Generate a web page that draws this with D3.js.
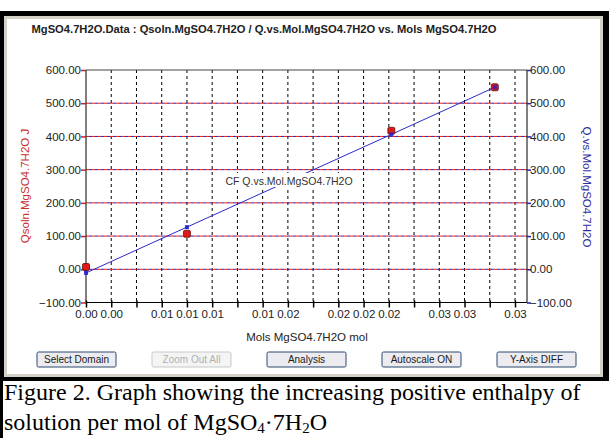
<!DOCTYPE html>
<html lang="en">
<head>
    <meta charset="UTF-8">
    <title>MgSO4.7H2O Qsoln vs Mols</title>
    <script src="https://d3js.org/d3.v7.min.js"></script>
    <style>
        body {
            margin: 0;
            background: #fff;
            font-family: Arial, "Liberation Sans", sans-serif;
        }
        .tick-label { font-size: 11.5px; fill: #222; }
        .btn-text { font-size: 10px; }
        .caption { font-family: "Liberation Serif", "Times New Roman", serif; font-size: 24px; fill: #000; }
    </style>
</head>
<body>
    <svg id="chart" width="609" height="438"></svg>

    <script>
        // data
        const mols = [0, 0.008, 0.0242, 0.0324];
        const qsoln = [7, 107, 417, 548];
        const qFit = [-11, 127, 406, 548];

        const xTickValues = d3.range(0, 0.0341, 0.002);
        const xTickLabels = ["0.00", "0.00", "", "0.01", "0.01", "0.01", "", "0.01", "0.02", "",
                             "0.02", "0.02", "0.02", "", "0.03", "0.03", "", "0.03"];
        const yTickValues = [-100, 0, 100, 200, 300, 400, 500, 600];
        const buttonLabels = ["Select Domain", "Zoom Out All", "Analysis", "Autoscale ON", "Y-Axis DIFF"];

        const svg = d3.select("#chart");

        // plot area
        const pLeft = 86, pRight = 527, pTop = 70, pBottom = 302.5;

        const x = d3.scaleLinear().domain([0, 0.034]).range([pLeft, 515]);
        const y = d3.scaleLinear().domain([-100, 600]).range([pBottom, pTop]);

        // window frame
        svg.append("rect").attr("x", 0).attr("y", 11).attr("width", 609).attr("height", 370).attr("fill", "#000");
        svg.append("rect").attr("x", 4).attr("y", 16).attr("width", 599).attr("height", 361).attr("fill", "#d4d0c8");
        svg.append("rect").attr("x", 7).attr("y", 19).attr("width", 593).attr("height", 355).attr("fill", "#fff");
        // left edge continues down past the caption
        svg.append("rect").attr("x", 0).attr("y", 381).attr("width", 3).attr("height", 57).attr("fill", "#000");

        // title
        svg.append("text")
            .attr("x", 264)
            .attr("y", 33)
            .attr("text-anchor", "middle")
            .style("font-size", "11.2px")
            .style("font-weight", "bold")
            .attr("fill", "#222")
            .text("MgSO4.7H2O.Data : Qsoln.MgSO4.7H2O / Q.vs.Mol.MgSO4.7H2O vs. Mols MgSO4.7H2O");

        // vertical dashed grid
        svg.append("g")
            .selectAll("line")
            .data(xTickValues.slice(1))
            .enter()
            .append("line")
            .attr("x1", d => x(d)).attr("x2", d => x(d))
            .attr("y1", pTop).attr("y2", pBottom)
            .attr("stroke", "#000")
            .attr("stroke-dasharray", "3,3");

        // horizontal grid: red and blue dashes interleaved
        const hGrid = yTickValues.filter(v => v > -100 && v < 600);
        svg.append("g")
            .selectAll("line")
            .data(hGrid)
            .enter()
            .append("line")
            .attr("x1", pLeft).attr("x2", pRight)
            .attr("y1", d => y(d)).attr("y2", d => y(d))
            .attr("stroke", "#e02020")
            .attr("stroke-dasharray", "3,3");
        svg.append("g")
            .selectAll("line")
            .data(hGrid)
            .enter()
            .append("line")
            .attr("x1", pLeft).attr("x2", pRight)
            .attr("y1", d => y(d)).attr("y2", d => y(d))
            .attr("stroke", "#2020c0")
            .attr("stroke-dasharray", "3,3")
            .attr("stroke-dashoffset", 3);

        // frame of plot
        svg.append("line").attr("x1", pLeft).attr("x2", pRight).attr("y1", pTop).attr("y2", pTop).attr("stroke", "#444");
        svg.append("line").attr("x1", pLeft).attr("x2", pRight).attr("y1", pBottom).attr("y2", pBottom).attr("stroke", "#000");

        // left axis (red ticks)
        const yLeft = svg.append("g")
            .attr("transform", `translate(${pLeft},0)`)
            .call(d3.axisLeft(y).tickValues(yTickValues).tickSize(5).tickFormat(d3.format(".2f")));
        yLeft.select(".domain").attr("stroke", "#000").attr("d", `M0,${pTop}V${pBottom}`);
        yLeft.selectAll(".tick line").attr("stroke", "#d02020").attr("stroke-width", 1.5);
        yLeft.selectAll(".tick text").attr("class", "tick-label").attr("x", -5);
        yLeft.attr("font-family", null).attr("font-size", null);

        // right axis (blue ticks)
        const yRight = svg.append("g")
            .attr("transform", `translate(${pRight},0)`)
            .call(d3.axisRight(y).tickValues(yTickValues).tickSize(4).tickFormat(d3.format(".2f")));
        yRight.select(".domain").attr("stroke", "#000").attr("d", `M0,${pTop}V${pBottom}`);
        yRight.selectAll(".tick line").attr("stroke", "#2020c0").attr("stroke-width", 1.5);
        yRight.selectAll(".tick text").attr("class", "tick-label").attr("x", 3);
        yRight.attr("font-family", null).attr("font-size", null);

        // bottom axis
        const xAxis = svg.append("g")
            .attr("transform", `translate(0,${pBottom})`)
            .call(d3.axisBottom(x).tickValues(xTickValues).tickSize(5).tickFormat((d, i) => xTickLabels[i]));
        xAxis.select(".domain").remove();
        xAxis.selectAll(".tick line").attr("stroke", "#000").attr("stroke-width", 1.5).attr("y1", -2);
        xAxis.selectAll(".tick text").attr("class", "tick-label").attr("y", 7);
        xAxis.attr("font-family", null).attr("font-size", null);

        // axis titles
        svg.append("text")
            .attr("transform", "translate(29,186) rotate(-90)")
            .attr("text-anchor", "middle")
            .style("font-size", "11.5px")
            .attr("fill", "#c83030")
            .text("Qsoln.MgSO4.7H2O J");
        svg.append("text")
            .attr("transform", "translate(583,187) rotate(90)")
            .attr("text-anchor", "middle")
            .style("font-size", "11.5px")
            .attr("fill", "#3030a0")
            .text("Q.vs.Mol.MgSO4.7H2O");
        svg.append("text")
            .attr("x", 307)
            .attr("y", 341)
            .attr("text-anchor", "middle")
            .style("font-size", "11.5px")
            .attr("fill", "#222")
            .text("Mols MgSO4.7H2O mol");

        // fitted line
        const fitData = mols.map((m, i) => [m, qFit[i]]);
        svg.append("path")
            .datum(fitData)
            .attr("d", d3.line().x(d => x(d[0])).y(d => y(d[1])))
            .attr("fill", "none")
            .attr("stroke", "#2a2ac8")
            .attr("stroke-width", 1);

        // curve label with white box over the line
        const lbl = svg.append("g").attr("transform", "translate(289,181)");
        lbl.append("rect").attr("x", -57).attr("y", -8).attr("width", 114).attr("height", 14).attr("fill", "#fff");
        lbl.append("text")
            .attr("text-anchor", "middle")
            .attr("y", 4)
            .style("font-size", "10.5px")
            .attr("fill", "#333")
            .text("CF Q.vs.Mol.MgSO4.7H2O");

        // measured points
        svg.append("g")
            .selectAll("rect")
            .data(mols.map((m, i) => [m, qsoln[i]]))
            .enter()
            .append("rect")
            .attr("x", d => x(d[0]) - 3.5)
            .attr("y", d => y(d[1]) - 3.5)
            .attr("width", 7).attr("height", 7)
            .attr("rx", 1.5)
            .attr("fill", "#e01818")
            .attr("stroke", "#601010")
            .attr("stroke-width", 0.8);

        // fit points
        svg.append("g")
            .selectAll("rect")
            .data(fitData)
            .enter()
            .append("rect")
            .attr("x", d => x(d[0]) - 2)
            .attr("y", d => y(d[1]) - 2)
            .attr("width", 4).attr("height", 4)
            .attr("fill", "#2020d0")
            .attr("fill-opacity", 0.85);

        // toolbar buttons
        const btn = svg.append("g")
            .selectAll("g")
            .data(buttonLabels)
            .enter()
            .append("g")
            .attr("transform", (d, i) => `translate(${37 + i * 115},352)`);
        btn.append("rect")
            .attr("width", 79).attr("height", 15)
            .attr("rx", 1.5)
            .attr("fill", (d, i) => i === 1 ? "#f4f4f4" : "#ececf0")
            .attr("stroke", (d, i) => i === 1 ? "#c8c8c8" : "#2c4870");
        btn.append("text")
            .attr("class", "btn-text")
            .attr("x", 39.5).attr("y", 11)
            .attr("text-anchor", "middle")
            .attr("fill", (d, i) => i === 1 ? "#b0b0b0" : "#1a1a1a")
            .text(d => d);

        // caption
        svg.append("text")
            .attr("class", "caption")
            .attr("x", 4)
            .attr("y", 400)
            .text("Figure 2. Graph showing the increasing positive enthalpy of");
        const cap2 = svg.append("text")
            .attr("class", "caption")
            .attr("x", 4)
            .attr("y", 430);
        cap2.append("tspan").text("solution per mol of MgSO");
        cap2.append("tspan").attr("dy", 3).style("font-size", "15px").text("4");
        cap2.append("tspan").attr("dy", -3).text("\u00b77H");
        cap2.append("tspan").attr("dy", 3).style("font-size", "15px").text("2");
        cap2.append("tspan").attr("dy", -3).text("O");
    </script>
</body>
</html>
